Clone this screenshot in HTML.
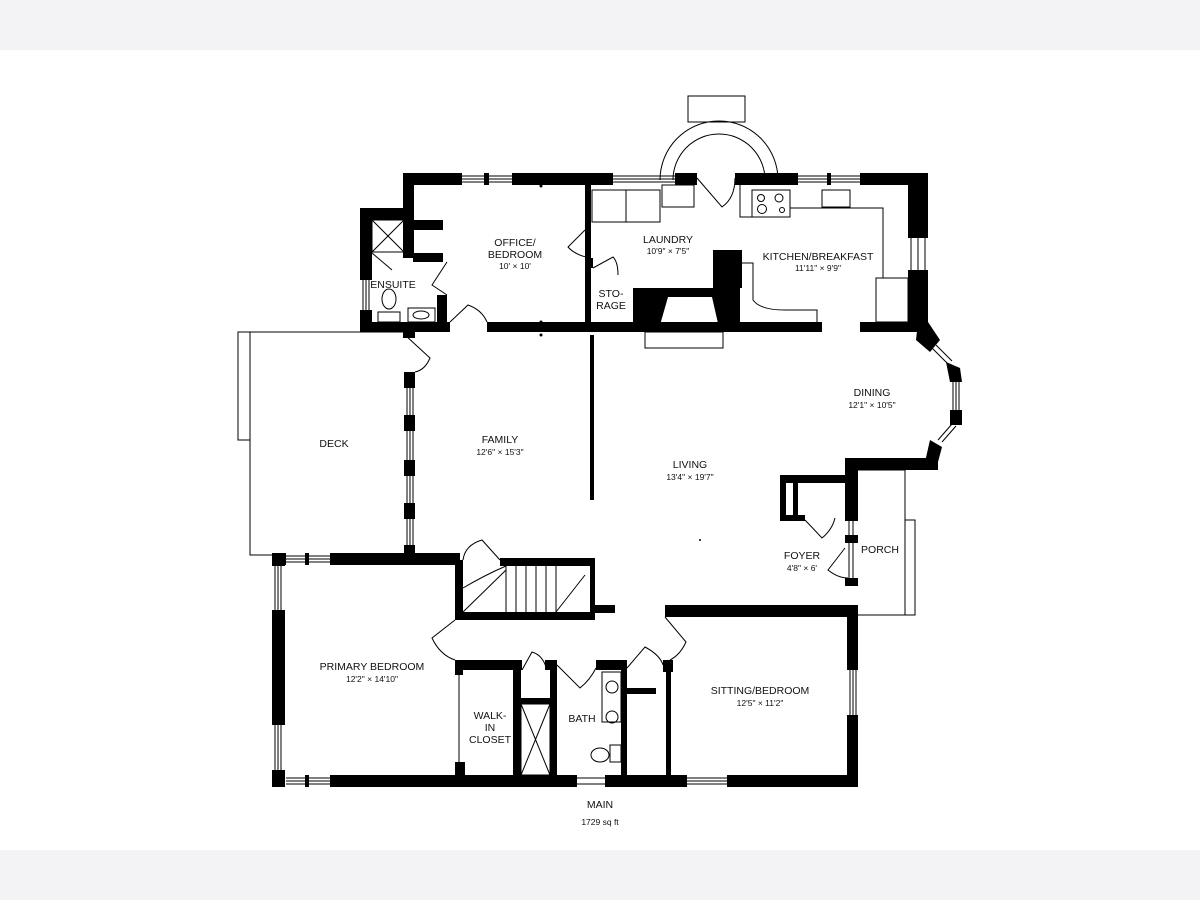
<!DOCTYPE html>
<html><head><meta charset="utf-8"><style>
html,body{margin:0;padding:0;background:#fff;}
body{width:1200px;height:900px;overflow:hidden;position:relative;font-family:"Liberation Sans",sans-serif;}
.band{position:absolute;left:0;width:1200px;height:50px;background:#f3f3f5;}
svg{position:absolute;left:0;top:0;}
text{font-family:"Liberation Sans",sans-serif;fill:#111;text-anchor:middle;}
.n{font-size:10.5px;}
.d{font-size:8.5px;}
</style></head><body>
<div class="band" style="top:0"></div>
<div class="band" style="top:850px"></div>
<svg width="1200" height="900" viewBox="0 0 1200 900">
<g fill="#000">
<!-- top walls -->
<rect x="403" y="173" width="59" height="12"/>
<rect x="512" y="173" width="101" height="12"/>
<rect x="675" y="173" width="22" height="12"/>
<rect x="735" y="173" width="63" height="12"/>
<rect x="860" y="173" width="68" height="12"/>
<rect x="484" y="173" width="5" height="12"/>
<rect x="827" y="173" width="4" height="12"/>
<!-- office left / ensuite -->
<rect x="403" y="173" width="11" height="85"/>
<rect x="360" y="208" width="54" height="12"/>
<rect x="360" y="208" width="12" height="72"/>
<rect x="360" y="310" width="12" height="22"/>
<rect x="413" y="220" width="30" height="10"/>
<rect x="413" y="253" width="30" height="9"/>
<rect x="437" y="295" width="10" height="37"/>
<rect x="360" y="322" width="90" height="10"/>
<rect x="403" y="332" width="12" height="6"/>
<!-- office bottom wall -->
<rect x="487" y="322" width="335" height="10"/>
<!-- laundry wall -->
<rect x="585" y="185" width="6" height="147"/>
<rect x="585" y="258" width="8" height="10"/>
<!-- fireplace -->
<path d="M638,288 H713 V250 H742 V288 H740 V332 H638 Z M668,297 L658,332 H720 L712,297 Z" fill-rule="evenodd"/>
<rect x="633" y="288" width="8" height="44"/>
<!-- kitchen right -->
<rect x="908" y="173" width="20" height="65"/>
<rect x="908" y="270" width="20" height="62"/>
<rect x="860" y="322" width="50" height="10"/>
<!-- dining bay -->
<polygon points="918,322 928,322 940,340 930,352 916,340"/>
<polygon points="946,362 960,368 962,382 950,382"/>
<rect x="950" y="410" width="12" height="15"/>
<polygon points="930,440 942,447 938,462 925,462"/>
<rect x="845" y="458" width="93" height="12"/>
<rect x="845" y="458" width="13" height="63"/>
<rect x="845" y="535" width="13" height="8"/>
<rect x="845" y="578" width="13" height="8"/>
<!-- closet by foyer -->
<rect x="780" y="475" width="68" height="8"/>
<rect x="780" y="475" width="6" height="45"/>
<rect x="780" y="515" width="25" height="6"/>
<rect x="793" y="483" width="5" height="35"/>
<!-- family/deck wall -->
<rect x="404" y="372" width="11" height="16"/>
<rect x="404" y="415" width="11" height="16"/>
<rect x="404" y="460" width="11" height="16"/>
<rect x="404" y="503" width="11" height="16"/>
<rect x="404" y="545" width="11" height="20"/>
<!-- divider family/living -->
<rect x="590" y="335" width="4" height="165"/>
<!-- primary bedroom -->
<rect x="272" y="553" width="14" height="12"/>
<rect x="305" y="553" width="4" height="12"/>
<rect x="330" y="553" width="130" height="12"/>
<rect x="272" y="553" width="13" height="13"/>
<rect x="272" y="610" width="13" height="115"/>
<rect x="272" y="770" width="13" height="17"/>
<rect x="305" y="775" width="4" height="12"/>
<rect x="330" y="775" width="247" height="12"/>
<rect x="605" y="775" width="82" height="12"/>
<rect x="727" y="775" width="131" height="12"/>
<!-- stairs -->
<rect x="455" y="560" width="8" height="60"/>
<rect x="500" y="558" width="95" height="8"/>
<rect x="455" y="612" width="140" height="8"/>
<rect x="590" y="558" width="5" height="50"/>
<rect x="590" y="605" width="25" height="8"/>
<!-- hall / sitting -->
<rect x="665" y="605" width="193" height="12"/>
<rect x="847" y="605" width="11" height="65"/>
<rect x="847" y="715" width="11" height="72"/>
<!-- bath / closet block -->
<rect x="455" y="660" width="67" height="10"/>
<rect x="455" y="660" width="8" height="15"/>
<rect x="455" y="762" width="10" height="15"/>
<rect x="513" y="660" width="8" height="117"/>
<rect x="520" y="698" width="37" height="6"/>
<rect x="550" y="660" width="7" height="117"/>
<rect x="545" y="660" width="12" height="10"/>
<rect x="596" y="660" width="30" height="10"/>
<rect x="621" y="660" width="6" height="117"/>
<rect x="621" y="688" width="35" height="6"/>
<rect x="663" y="660" width="10" height="12"/>
<rect x="666" y="660" width="5" height="117"/>
</g>
<g fill="none" stroke="#000" stroke-width="1">
<!-- chimney & arc -->
<rect x="688" y="96" width="57" height="26"/>
<path d="M660,180 A58,58 0 0 1 778,180"/>
<path d="M673,180 A45,45 0 0 1 765,180"/>
<!-- windows -->
<path d="M462,176 H512 M462,179 H512 M462,182 H512"/>
<path d="M613,176 H675 M613,179 H675 M613,182 H675"/>
<path d="M798,176 H860 M798,179 H860 M798,182 H860"/>
<path d="M911,238 V270 M918,238 V270 M925,238 V270"/>
<path d="M363,280 V310 M366,280 V310 M369,280 V310"/>
<path d="M407,388 V415 M410,388 V415 M413,388 V415 M407,431 V460 M410,431 V460 M413,431 V460 M407,476 V503 M410,476 V503 M413,476 V503 M407,519 V545 M410,519 V545 M413,519 V545"/>
<path d="M286,556 H330 M286,559 H330 M286,562 H330"/>
<path d="M286,778 H330 M286,781 H330 M286,784 H330"/>
<path d="M275,566 V610 M278,566 V610 M281,566 V610 M275,725 V770 M278,725 V770 M281,725 V770"/>
<path d="M577,778 H605 M577,784 H605 M687,778 H727 M687,781 H727 M687,784 H727"/>
<path d="M850,670 V715 M853,670 V715 M856,670 V715"/>
<path d="M849,521 V535 M853,521 V535 M849,543 V578 M853,543 V578"/>
<path d="M953,382 V410 M956,382 V410 M959,382 V410"/>
<path d="M932,348 L948,364 M936,345 L952,361"/>
<path d="M938,440 L952,424 M942,442 L956,426"/>
<!-- deck -->
<path d="M250,332 H403 M250,332 V555 H272 M238,332 H250 V440 H238 Z"/>
<!-- porch -->
<path d="M858,470 H905 V615 H858 M905,520 H915 V615 H905"/>
<!-- appliances -->
<rect x="592" y="190" width="68" height="32"/><path d="M626,190 V222"/>
<rect x="662" y="185" width="32" height="22"/>
<rect x="752" y="190" width="38" height="27"/>
<circle cx="761" cy="198" r="3.5"/><circle cx="779" cy="198" r="4"/><circle cx="762" cy="209" r="4.5"/><circle cx="782" cy="210" r="2.5"/>
<path d="M740,185 V217 H752"/>
<rect x="822" y="190" width="28" height="17"/>
<path d="M790,208 H883 V278"/>
<rect x="876" y="278" width="32" height="44"/>
<path d="M742,263 H753 V300 Q760,310 785,310 H817 V322"/>
<rect x="645" y="332" width="78" height="16"/>
<path d="M724,262 L716,270 L722,276 L714,284 L722,290"/>
<!-- ensuite fixtures -->
<rect x="372" y="220" width="32" height="32"/><path d="M372,220 L404,252 M404,220 L372,252"/>
<rect x="378" y="312" width="22" height="10"/><ellipse cx="389" cy="299" rx="7" ry="10"/>
<rect x="408" y="308" width="27" height="14"/><ellipse cx="421" cy="315" rx="8" ry="4"/>
<!-- doors -->
<path d="M372,253 L392,270 M447,262 L432,285 L447,295"/>
<path d="M450,322 L468,305 Q482,310 487,322"/>
<path d="M405,335 L430,358 Q425,370 415,372"/>
<path d="M585,230 L568,247 Q575,255 590,258"/>
<path d="M593,268 L613,257 Q618,262 618,275"/>
<path d="M697,178 L722,207 Q735,198 735,178"/>
<path d="M805,520 L822,538 Q832,530 835,518"/>
<path d="M845,548 L828,570 Q838,578 848,578"/>
<path d="M500,560 L482,540 Q465,545 463,560"/>
<path d="M455,620 L432,638 Q440,655 455,660"/>
<path d="M665,617 L686,642 Q680,655 670,660"/>
<path d="M522,670 L532,652 Q543,655 547,670"/>
<path d="M557,665 L580,688 Q590,680 596,668"/>
<path d="M627,668 L645,647 Q660,655 663,665"/>
<!-- stairs -->
<path d="M506,566 V612 M516,566 V612 M526,566 V612 M536,566 V612 M546,566 V612 M556,566 V612 M463,588 Q485,575 506,566 M463,612 L506,570 M556,612 L585,575"/>
<!-- closet / shower / bath -->
<path d="M459,672 V762"/>
<rect x="521" y="704" width="29" height="71"/><path d="M521,704 L550,775 M550,704 L521,775"/>
<rect x="602" y="672" width="19" height="50"/><circle cx="612" cy="687" r="6"/><circle cx="612" cy="717" r="6"/>
<rect x="610" y="745" width="11" height="17"/><ellipse cx="600" cy="755" rx="9" ry="7"/>
<path d="M667,675 V770"/>
</g>
<g fill="#000">
<circle cx="541" cy="186" r="1.5"/><circle cx="541" cy="335" r="1.5"/><circle cx="541" cy="322" r="1.5"/>
<circle cx="700" cy="540" r="1"/>
</g>
<text class="n" x="515" y="246">OFFICE/</text>
<text class="n" x="515" y="258">BEDROOM</text>
<text class="d" x="515" y="269">10' × 10'</text>
<text class="n" x="668" y="243">LAUNDRY</text>
<text class="d" x="668" y="254">10'9" × 7'5"</text>
<text class="n" x="818" y="260">KITCHEN/BREAKFAST</text>
<text class="d" x="818" y="271">11'11" × 9'9"</text>
<text class="n" x="393" y="288">ENSUITE</text>
<text class="n" x="611" y="297">STO-</text>
<text class="n" x="611" y="309">RAGE</text>
<text class="n" x="334" y="447">DECK</text>
<text class="n" x="500" y="443">FAMILY</text>
<text class="d" x="500" y="455">12'6" × 15'3"</text>
<text class="n" x="690" y="468">LIVING</text>
<text class="d" x="690" y="480">13'4" × 19'7"</text>
<text class="n" x="872" y="396">DINING</text>
<text class="d" x="872" y="408">12'1" × 10'5"</text>
<text class="n" x="802" y="559">FOYER</text>
<text class="d" x="802" y="571">4'8" × 6'</text>
<text class="n" x="880" y="553">PORCH</text>
<text class="n" x="372" y="670">PRIMARY BEDROOM</text>
<text class="d" x="372" y="682">12'2" × 14'10"</text>
<text class="n" x="490" y="719">WALK-</text>
<text class="n" x="490" y="731">IN</text>
<text class="n" x="490" y="743">CLOSET</text>
<text class="n" x="582" y="722">BATH</text>
<text class="n" x="760" y="694">SITTING/BEDROOM</text>
<text class="d" x="760" y="706">12'5" × 11'2"</text>
<text class="n" x="600" y="808">MAIN</text>
<text class="d" x="600" y="825">1729 sq ft</text>
</svg>
</body></html>
